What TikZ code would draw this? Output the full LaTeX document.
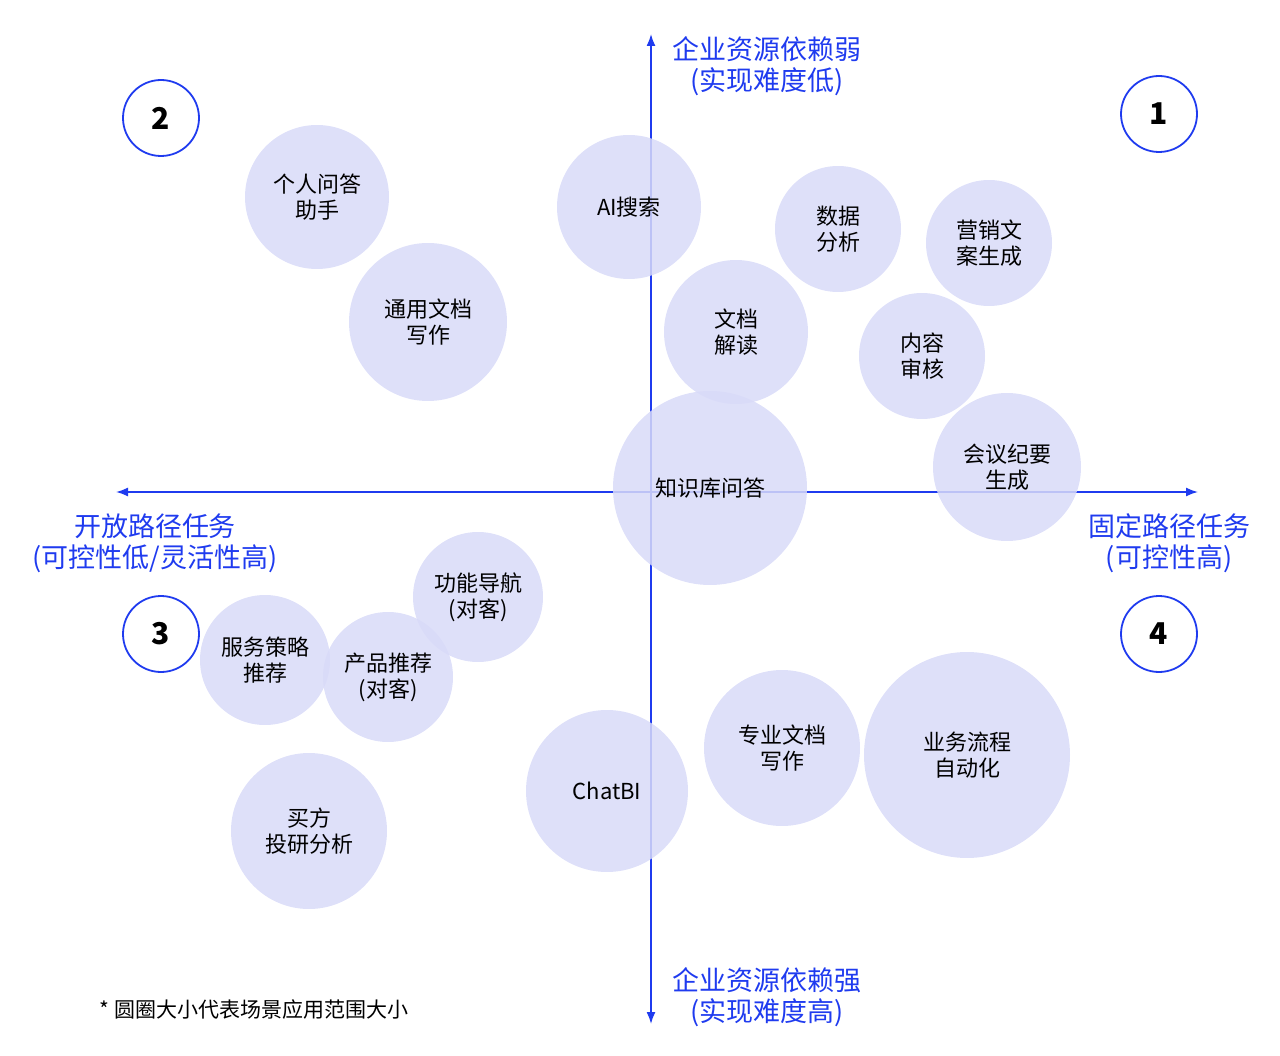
\documentclass[tikz,border=0pt]{standalone}
\usepackage{fontspec}
\setmainfont{Noto Sans CJK SC}
\usetikzlibrary{arrows.meta}
\definecolor{ax}{HTML}{1F3BEF}
\definecolor{bub}{HTML}{D8DAF8}
\tikzset{
  bubble/.style={circle,fill=bub,fill opacity=0.85,text opacity=1,align=center,font=\fontsize{22}{26}\selectfont,inner sep=0pt},
  num/.style={circle,draw=ax,line width=1.8pt,minimum size=76pt,font=\fontsize{30}{30}\selectfont\bfseries},
  axl/.style={text=ax,align=center,font=\fontsize{27}{31}\selectfont},
  axis/.style={draw=ax,line width=1.6pt,-{Latex[length=12pt,width=9pt]}}
}
\begin{document}
\begin{tikzpicture}[x=1pt,y=-1pt]
\useasboundingbox (0,0) rectangle (1280,1056);
\coordinate (c) at (651,492);
\coordinate (top) at (651,34);
\coordinate (bot) at (651,1024);
\coordinate (lft) at (116,492);
\coordinate (rgt) at (1198,492);
\draw[axis] (c) -- (top);
\draw[axis] (c) -- (bot);
\draw[axis] (c) -- (lft);
\draw[axis] (c) -- (rgt);
\newcommand{\bb}[4]{\node[bubble,minimum size=#3*2pt] (#4) at (#1) {#2};}
\bb{317,197}{个人问答\\助手}{72}{b1}
\bb{428,322}{通用文档\\写作}{79}{b2}
\bb{629,207}{AI搜索}{72}{b3}
\bb{838,229}{数据\\分析}{63}{b4}
\bb{989,243}{营销文\\案生成}{63}{b5}
\bb{736,332}{文档\\解读}{72}{b6}
\bb{922,356}{内容\\审核}{63}{b7}
\bb{710,488}{知识库问答}{97}{b8}
\bb{1007,467}{会议纪要\\生成}{74}{b9}
\bb{478,597}{功能导航\\(对客)}{65}{b10}
\bb{265,660}{服务策略\\推荐}{65}{b11}
\bb{388,677}{产品推荐\\(对客)}{65}{b12}
\bb{309,831}{买方\\投研分析}{78}{b13}
\bb{607,791}{ChatBI}{81}{b14}
\bb{782,748}{专业文档\\写作}{78}{b15}
\bb{967,755}{业务流程\\自动化}{103}{b16}
\node[num] (n2) at (161,118) {2};
\node[num] (n1) at (1159,114) {1};
\node[num] (n3) at (161,634) {3};
\node[num] (n4) at (1159,634) {4};
\node[axl] (t) at (767,66) {企业资源依赖弱\\(实现难度低)};
\node[axl] (b) at (767,997) {企业资源依赖强\\(实现难度高)};
\node[axl] (l) at (155,543) {开放路径任务\\(可控性低/灵活性高)};
\node[axl] (r) at (1169,543) {固定路径任务\\(可控性高)};
\node[anchor=west,font=\fontsize{21}{24}\selectfont] (fn) at (96,1010) {* 圆圈大小代表场景应用范围大小};
\end{tikzpicture}
\end{document}
